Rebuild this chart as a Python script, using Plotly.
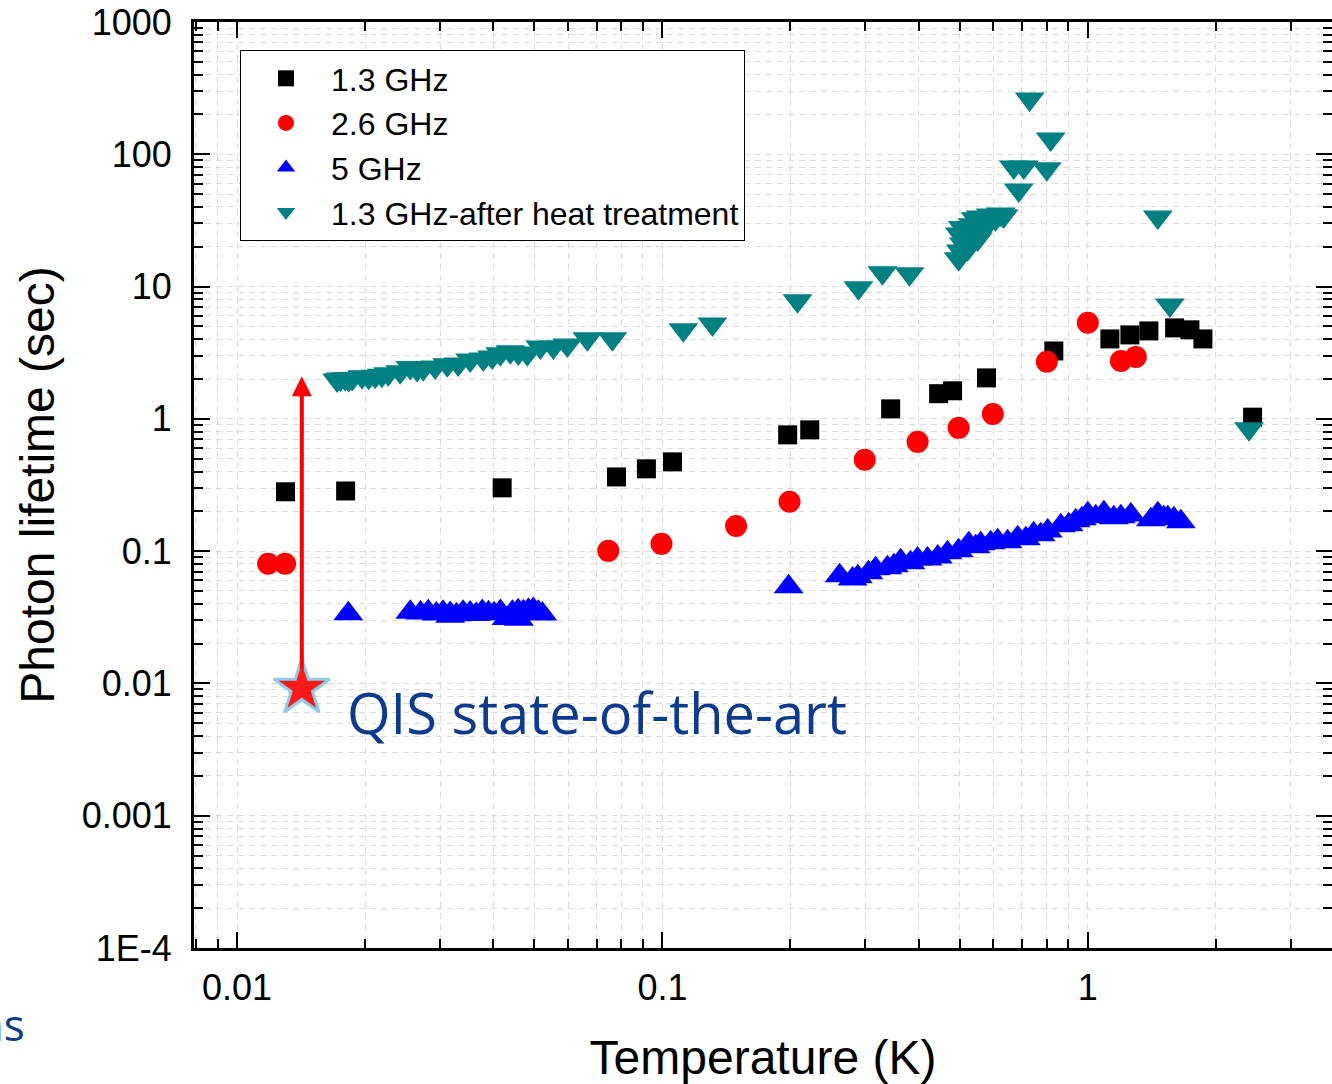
import numpy as np
import plotly.graph_objects as go

# ---------------- data ----------------
t_13 = [0.0130, 0.0180, 0.0420, 0.0780, 0.0917, 0.1056, 0.197, 0.222, 0.344,
        0.446, 0.481, 0.578, 0.832, 1.127, 1.256, 1.392, 1.600, 1.738, 1.865, 2.44]
tau_13 = [0.281, 0.285, 0.301, 0.364, 0.419, 0.473, 0.757, 0.826, 1.19,
          1.55, 1.63, 2.04, 3.26, 4.02, 4.31, 4.62, 4.87, 4.71, 4.02, 1.03]

t_26 = [0.01183, 0.01297, 0.0746, 0.0995, 0.149, 0.199, 0.299, 0.398, 0.497,
        0.598, 0.801, 1.000, 1.196, 1.297]
tau_26 = [0.0802, 0.0802, 0.1005, 0.1135, 0.155, 0.236, 0.490, 0.670, 0.855,
          1.09, 2.70, 5.32, 2.74, 2.94]

t_5 = [0.01826,
       0.02554, 0.0270, 0.02815, 0.0294, 0.0305, 0.0317, 0.0317, 0.0328, 0.0340,
       0.0353, 0.0365, 0.0377, 0.0390, 0.0402, 0.0416, 0.0430, 0.0444, 0.0445,
       0.0458, 0.0460, 0.0471, 0.0484, 0.0497, 0.0511, 0.0522,
       0.198,
       0.261, 0.280, 0.288, 0.305, 0.317, 0.338, 0.350, 0.363, 0.383, 0.398,
       0.420, 0.444, 0.468, 0.497, 0.525, 0.545, 0.560, 0.591, 0.614, 0.648,
       0.684, 0.715, 0.746, 0.775, 0.805, 0.864, 0.902, 0.937, 0.968, 1.000,
       1.044, 1.091, 1.151, 1.196, 1.262, 1.407, 1.461, 1.509, 1.542, 1.594, 1.655]
tau_5 = [0.0336,
         0.0345, 0.0340, 0.0348, 0.0335, 0.0345, 0.0338, 0.0322, 0.0330, 0.0345,
         0.0340, 0.0332, 0.0350, 0.0342, 0.0336, 0.0350, 0.0310, 0.0345, 0.0310,
         0.0355, 0.0305, 0.0348, 0.0358, 0.0362, 0.0345, 0.0335,
         0.0537,
         0.0651, 0.0617, 0.0639, 0.0686, 0.0735, 0.0748, 0.0774, 0.0845, 0.0816, 0.0874,
         0.0874, 0.0905, 0.0971, 0.1005, 0.1135, 0.1078, 0.1135, 0.1155, 0.1196, 0.1176,
         0.1260, 0.1239, 0.1351, 0.1328, 0.1423, 0.1553, 0.1581, 0.1694, 0.1754, 0.1914,
         0.1816, 0.1948, 0.1785, 0.1816, 0.1880, 0.1724, 0.1914, 0.1785, 0.1785, 0.1754, 0.1665]

t_ht = [0.01719, 0.01750, 0.01796, 0.01830, 0.01865, 0.01968, 0.02040, 0.02112,
        0.02190, 0.02266, 0.02418, 0.02554, 0.02650, 0.02739, 0.02923, 0.0312,
        0.03311, 0.03533, 0.03792, 0.03981, 0.04158, 0.04389, 0.04584, 0.04813,
        0.05164, 0.05541, 0.05976, 0.06661, 0.07627, 0.1120, 0.1311, 0.2078,
        0.289, 0.329, 0.381,
        0.497, 0.503, 0.511, 0.516, 0.522, 0.530, 0.536, 0.545, 0.551, 0.560,
        0.566, 0.579, 0.591, 0.607, 0.624, 0.634, 0.500, 0.508, 0.540,
        0.688, 0.670, 0.707, 0.801, 0.818, 0.730, 1.461, 1.559, 2.393]
tau_ht = [1.97, 2.00, 2.01, 1.98, 2.02, 2.08, 2.06, 2.10,
          2.14, 2.19, 2.27, 2.45, 2.36, 2.39, 2.47, 2.56,
          2.60, 2.79, 2.84, 2.94, 3.10, 3.21, 3.15, 3.10,
          3.50, 3.50, 3.62, 4.03, 4.03, 4.71, 5.22, 7.80,
          9.78, 12.7, 12.5,
          16.2, 18.6, 21.0, 23.8, 19.3, 26.4, 29.3, 32.5, 22.9, 33.6,
          26.4, 29.3, 34.8, 32.5, 35.4, 34.2, 25.0, 28.0, 24.0,
          53.8, 80.3, 80.3, 77.6, 130.7, 262.0, 33.6, 7.27, 0.84]

star_t = [0.0142]
star_tau = [0.0092]
arrow_tail_tau = 0.0125
arrow_head_tau = 2.1

x_tickvals = [0.01, 0.1, 1]
x_ticktext = ["0.01", "0.1", "1"]
y_tickvals = [1e-4, 1e-3, 1e-2, 1e-1, 1, 10, 100, 1000]
y_ticktext = ["1E-4", "0.001", "0.01", "0.1", "1", "10", "100", "1000"]

# minor tick positions (2..9 per decade)
x_minor = [m * 10.0 ** k for k in range(-3, 1) for m in range(2, 10)]
y_minor = [m * 10.0 ** k for k in range(-4, 3) for m in range(2, 10)]

# ---------------- figure ----------------
W, H = 1332, 1084
ML, MT, MB, MR = 194, 22, 136, 0
FONT = "Liberation Sans, Arial, sans-serif"
GRID = "#dcdcdc"
DASH = "6px,5px"

fig = go.Figure()
fig.add_trace(go.Scatter(x=t_13, y=tau_13, mode="markers", name="1.3 GHz",
                         marker=dict(symbol="square", size=19, color="black")))
fig.add_trace(go.Scatter(x=t_26, y=tau_26, mode="markers", name="2.6 GHz",
                         marker=dict(symbol="circle", size=22, color="#ff0000")))
fig.add_trace(go.Scatter(x=t_5, y=tau_5, mode="markers", name="5 GHz",
                         marker=dict(symbol="triangle-up", size=26, color="#0000ff")))
fig.add_trace(go.Scatter(x=t_ht, y=tau_ht, mode="markers",
                         name="1.3 GHz-after heat treatment",
                         marker=dict(symbol="triangle-down", size=26, color="#008080")))
fig.add_trace(go.Scatter(x=star_t, y=star_tau, mode="markers", showlegend=False,
                         marker=dict(symbol="star", size=42, color="#ff1a1a",
                                     line=dict(color="#8fcbe6", width=3))))

axis_common = dict(
    type="log", ticks="inside", ticklen=16, tickwidth=2, tickcolor="black",
    showline=True, linecolor="black", linewidth=3, mirror="ticks",
    showgrid=True, gridcolor=GRID, griddash=DASH, gridwidth=1,
    zeroline=False, tickfont=dict(family=FONT, size=36, color="black"),
    tickmode="array",
)
minor_common = dict(ticks="inside", ticklen=9, tickwidth=2, tickcolor="black",
                    showgrid=True, gridcolor=GRID, griddash=DASH, gridwidth=1)

fig.update_xaxes(**axis_common, range=[-2.1012, 0.5741],
                 tickvals=x_tickvals, ticktext=x_ticktext,
                 minor=dict(tickvals=x_minor, **minor_common),
                 ticklabelstandoff=6,
                 title=dict(text="Temperature (K)", standoff=34,
                            font=dict(family=FONT, size=48, color="black")))
fig.update_yaxes(**axis_common, range=[-4, 3],
                 tickvals=y_tickvals, ticktext=y_ticktext,
                 minor=dict(tickvals=y_minor, **minor_common),
                 ticklabelstandoff=12,
                 title=dict(text="Photon lifetime (sec)", standoff=12,
                            font=dict(family=FONT, size=48, color="black")))

fig.add_annotation(x=np.log10(star_t[0]), y=np.log10(arrow_head_tau),
                   ax=np.log10(star_t[0]), ay=np.log10(arrow_tail_tau),
                   xref="x", yref="y", axref="x", ayref="y", text="",
                   showarrow=True, arrowhead=2, arrowsize=1, arrowwidth=4,
                   arrowcolor="#ff0000", standoff=0, startstandoff=0)

fig.add_annotation(x=(345 - ML) / (W - ML - MR), y=1 - (712 - MT) / (H - MT - MB),
                   xref="paper", yref="paper", xanchor="left", yanchor="middle",
                   text="QIS state-of-the-art", showarrow=False,
                   font=dict(family="Open Sans, sans-serif", size=56, color="#0b3a8f"))
fig.add_annotation(x=(27 - ML) / (W - ML - MR), y=1 - (1024 - MT) / (H - MT - MB),
                   xref="paper", yref="paper", xanchor="right", yanchor="middle",
                   text="ms", showarrow=False,
                   font=dict(family="Open Sans, sans-serif", size=44, color="#0b3a8f"))

fig.update_layout(
    width=W, height=H,
    margin=dict(l=ML, r=MR, t=MT, b=MB, autoexpand=False),
    paper_bgcolor="white", plot_bgcolor="white",
    showlegend=True,
    legend=dict(x=(240 - ML) / (W - ML - MR), y=1 - (50 - MT) / (H - MT - MB),
                xanchor="left", yanchor="top", bgcolor="white",
                bordercolor="black", borderwidth=1,
                font=dict(family=FONT, size=32, color="black"),
                itemwidth=80, tracegroupgap=0),
    font=dict(family=FONT, color="black"),
)

fig.write_html("out.html", config={"displayModeBar": False},
               post_script="document.body.style.margin='0';document.body.style.overflow='hidden';")
